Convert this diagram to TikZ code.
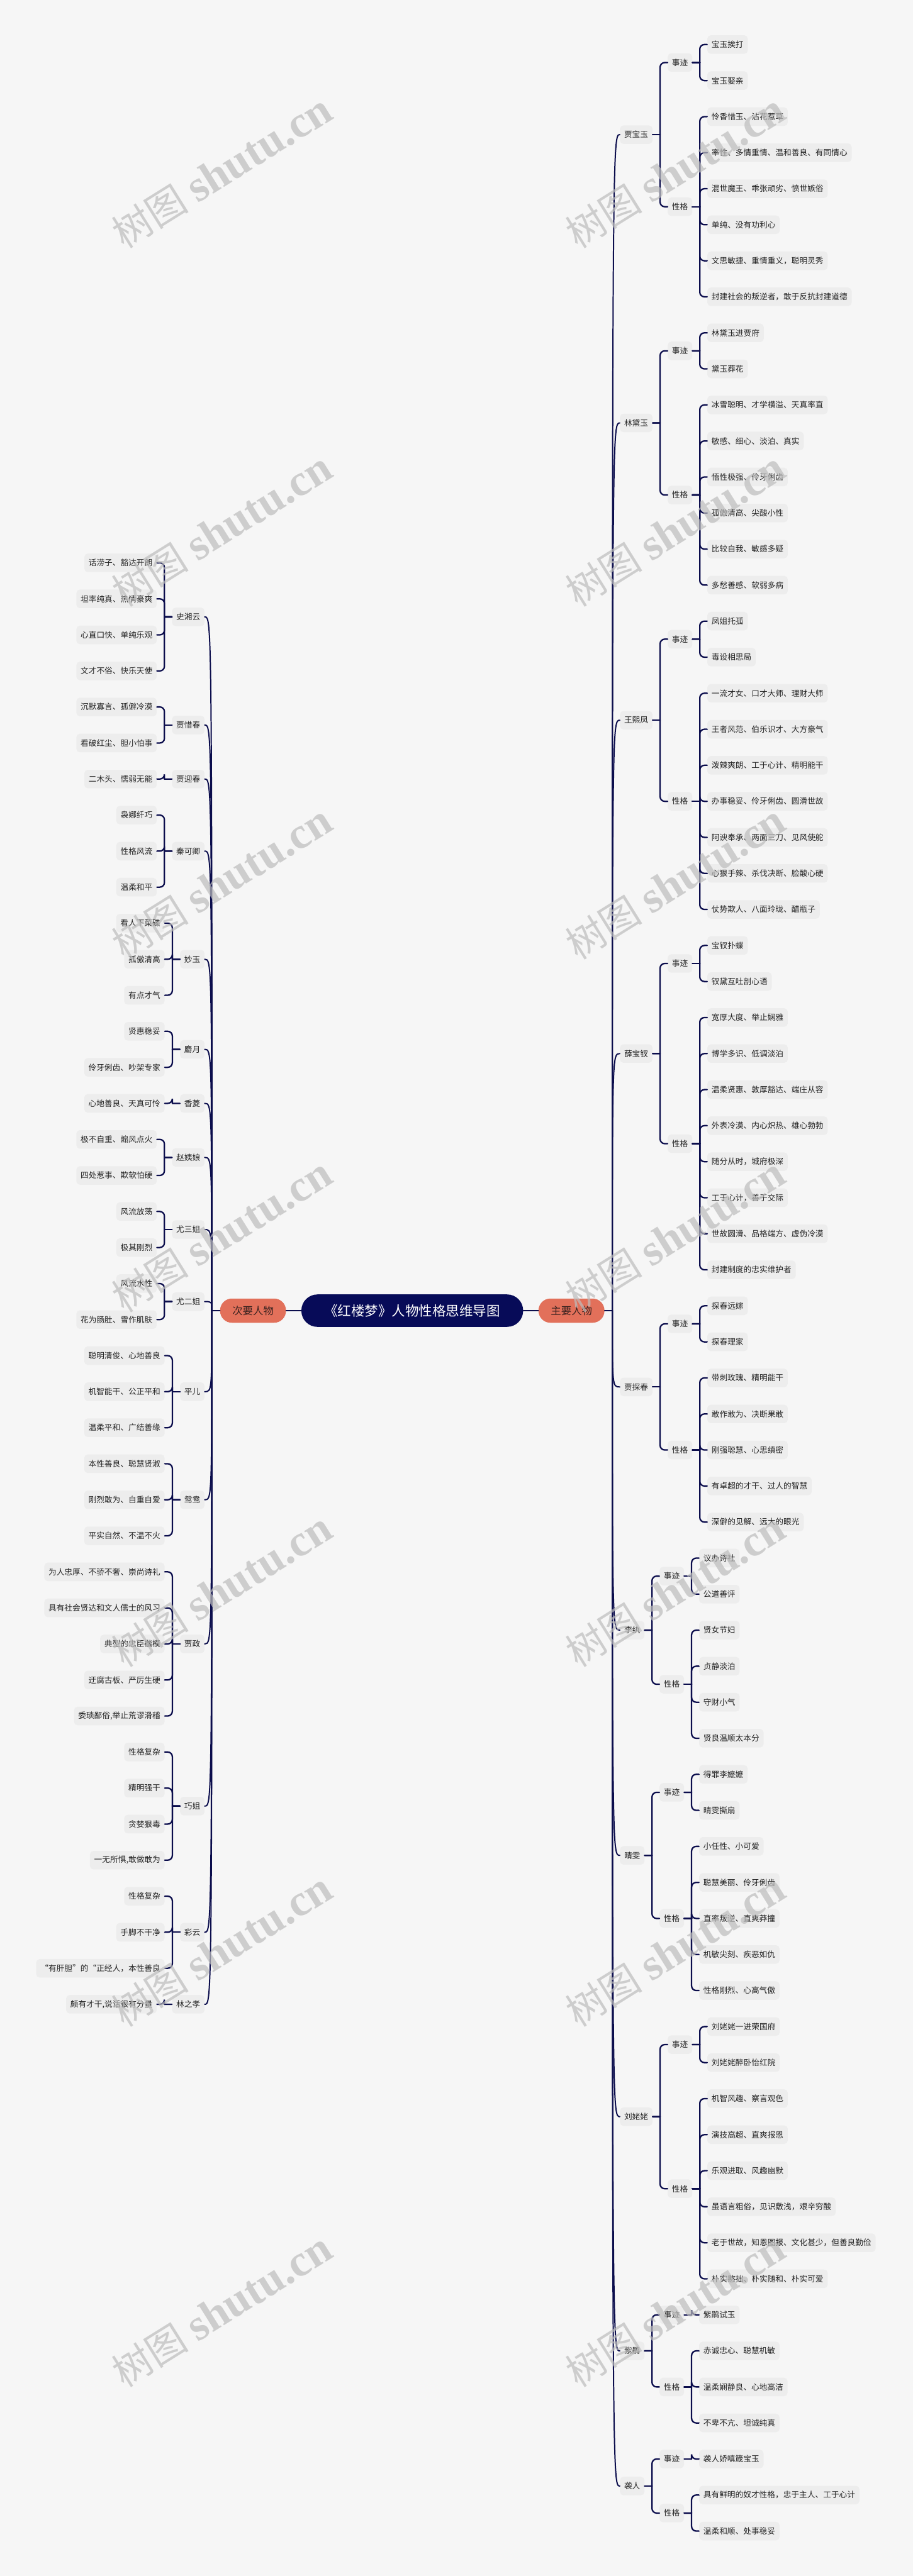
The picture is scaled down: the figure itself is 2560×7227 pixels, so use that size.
\documentclass[tikz,border=0pt]{standalone}
\usepackage{fontspec}
\setmainfont{Noto Sans CJK SC}
\newfontfamily\wmcjk{Noto Sans CJK SC}
\newfontfamily\wmlat{Liberation Serif}
\usetikzlibrary{calc}
\definecolor{bgc}{HTML}{F6F6F6}
\definecolor{boxc}{HTML}{EDEDED}
\definecolor{linec}{HTML}{0B0D4C}
\definecolor{navy}{HTML}{070B58}
\definecolor{coral}{HTML}{E2705A}
\definecolor{coraltxt}{HTML}{3B2320}
\definecolor{txtc}{HTML}{222222}
\definecolor{wmc}{HTML}{BDBDBD}
\tikzset{
  nd/.style={fill=boxc, rounded corners=0.2cm, inner xsep=0.24cm, inner ysep=0pt,
    minimum height=1.04cm, text=txtc, font=\fontsize{12.75pt}{14pt}\selectfont},
  ndR/.style={nd, anchor=west},
  ndL/.style={nd, anchor=east},
  br/.style={draw=linec, line width=0.08cm, line cap=round},
  tr/.style={draw=linec, line width=0.07cm, line cap=round},
  hub/.style={fill=coral, text=coraltxt, minimum width=3.7cm, minimum height=1.36cm,
    rounded corners=0.67cm, inner sep=0pt, font=\fontsize{16.5pt}{18pt}\selectfont},
  wm/.style={anchor=base west, rotate=32, text=wmc, text opacity=0.7, inner sep=0pt}
}
% parent -> child, right side
\newcommand\joinR[2]{%
  \draw[br] (#1.east) -- ($(#1.east)!0.5!(#1.east -| #2.west)$) coordinate (m);
  \draw[br, rounded corners=0.26cm] (m) |- (#2.west);}
% parent -> child, left side
\newcommand\joinL[2]{%
  \draw[br] (#1.west) -- ($(#1.west)!0.5!(#1.west -| #2.east)$) coordinate (m);
  \draw[br, rounded corners=0.26cm] (m) |- (#2.east);}
\newcommand\qo{\makebox[1em][r]{“}}
\newcommand\qc{\makebox[1em][l]{”}}

\begin{document}
\begin{tikzpicture}[x=0.02cm, y=-0.02cm]
\useasboundingbox (0,0) rectangle (2560,7227);
\fill[bgc] (0,0) rectangle (2560,7227);

% centre
\node[fill=navy, text=white, minimum width=12.44cm, minimum height=1.82cm, rounded corners=0.9cm,
  inner sep=0pt, font=\fontsize{21.6pt}{24pt}\selectfont] (title) at (1156,3677) {《红楼梦》人物性格思维导图};
\node[hub] (ci) at (709.5,3677) {次要人物};
\node[hub] (zhu) at (1602.5,3677) {主要人物};
\coordinate (tR) at (1717,3677);
\coordinate (tL) at (594,3677);

% main characters
\node[ndR] (bao) at (1738,377.75) {贾宝玉};
\node[ndR] (baoS) at (1872,175.55) {事迹};
\node[ndR] (baoX) at (1872,579.95) {性格};
\node[ndR] (r0) at (1983,125.0) {宝玉挨打};
\node[ndR] (r1) at (1983,226.1) {宝玉娶亲};
\node[ndR] (r2) at (1983,327.2) {怜香惜玉、沾花惹草};
\node[ndR] (r3) at (1983,428.3) {率性、多情重情、温和善良、有同情心};
\node[ndR] (r4) at (1983,529.4) {混世魔王、乖张顽劣、愤世嫉俗};
\node[ndR] (r5) at (1983,630.5) {单纯、没有功利心};
\node[ndR] (r6) at (1983,731.6) {文思敏捷、重情重义，聪明灵秀};
\node[ndR] (r7) at (1983,832.7) {封建社会的叛逆者，敢于反抗封建道德};

\node[ndR] (dai) at (1738,1186.55) {林黛玉};
\node[ndR] (daiS) at (1872,984.35) {事迹};
\node[ndR] (daiX) at (1872,1388.75) {性格};
\node[ndR] (r8) at (1983,933.8) {林黛玉进贾府};
\node[ndR] (r9) at (1983,1034.9) {黛玉葬花};
\node[ndR] (r10) at (1983,1136.0) {冰雪聪明、才学横溢、天真率直};
\node[ndR] (r11) at (1983,1237.1) {敏感、细心、淡泊、真实};
\node[ndR] (r12) at (1983,1338.2) {悟性极强、伶牙俐齿};
\node[ndR] (r13) at (1983,1439.3) {孤傲清高、尖酸小性};
\node[ndR] (r14) at (1983,1540.4) {比较自我、敏感多疑};
\node[ndR] (r15) at (1983,1641.5) {多愁善感、软弱多病};

\node[ndR] (feng) at (1738,2020.6) {王熙凤};
\node[ndR] (fengS) at (1872,1793.15) {事迹};
\node[ndR] (fengX) at (1872,2248.1) {性格};
\node[ndR] (r16) at (1983,1742.6) {凤姐托孤};
\node[ndR] (r17) at (1983,1843.7) {毒设相思局};
\node[ndR] (r18) at (1983,1944.8) {一流才女、口才大师、理财大师};
\node[ndR] (r19) at (1983,2045.9) {王者风范、伯乐识才、大方豪气};
\node[ndR] (r20) at (1983,2147.0) {泼辣爽朗、工于心计、精明能干};
\node[ndR] (r21) at (1983,2248.1) {办事稳妥、伶牙俐齿、圆滑世故};
\node[ndR] (r22) at (1983,2349.2) {阿谀奉承、两面三刀、见风使舵};
\node[ndR] (r23) at (1983,2450.3) {心狠手辣、杀伐决断、脸酸心硬};
\node[ndR] (r24) at (1983,2551.4) {仗势欺人、八面玲珑、醋瓶子};

\node[ndR] (chai) at (1738,2955.8) {薛宝钗};
\node[ndR] (chaiS) at (1872,2703.05) {事迹};
\node[ndR] (chaiX) at (1872,3208.55) {性格};
\node[ndR] (r25) at (1983,2652.5) {宝钗扑蝶};
\node[ndR] (r26) at (1983,2753.6) {钗黛互吐剖心语};
\node[ndR] (r27) at (1983,2854.7) {宽厚大度、举止娴雅};
\node[ndR] (r28) at (1983,2955.8) {博学多识、低调淡泊};
\node[ndR] (r29) at (1983,3056.9) {温柔贤惠、敦厚豁达、端庄从容};
\node[ndR] (r30) at (1983,3158.0) {外表冷漠、内心炽热、雄心勃勃};
\node[ndR] (r31) at (1983,3259.1) {随分从时，城府极深};
\node[ndR] (r32) at (1983,3360.2) {工于心计，善于交际};
\node[ndR] (r33) at (1983,3461.3) {世故圆滑、品格端方、虚伪冷漠};
\node[ndR] (r34) at (1983,3562.4) {封建制度的忠实维护者};

\node[ndR] (tan) at (1738,3890.98) {贾探春};
\node[ndR] (tanS) at (1872,3714.05) {事迹};
\node[ndR] (tanX) at (1872,4067.9) {性格};
\node[ndR] (r35) at (1983,3663.5) {探春远嫁};
\node[ndR] (r36) at (1983,3764.6) {探春理家};
\node[ndR] (r37) at (1983,3865.7) {带刺玫瑰、精明能干};
\node[ndR] (r38) at (1983,3966.8) {敢作敢为、决断果敢};
\node[ndR] (r39) at (1983,4067.9) {刚强聪慧、心思缜密};
\node[ndR] (r40) at (1983,4169.0) {有卓超的才干、过人的智慧};
\node[ndR] (r41) at (1983,4270.1) {深僻的见解、远大的眼光};

\node[ndR] (wan) at (1738,4573.4) {李纨};
\node[ndR] (wanS) at (1849,4421.75) {事迹};
\node[ndR] (wanX) at (1849,4725.05) {性格};
\node[ndR] (r42) at (1960,4371.2) {议办诗社};
\node[ndR] (r43) at (1960,4472.3) {公道善评};
\node[ndR] (r44) at (1960,4573.4) {贤女节妇};
\node[ndR] (r45) at (1960,4674.5) {贞静淡泊};
\node[ndR] (r46) at (1960,4775.6) {守财小气};
\node[ndR] (r47) at (1960,4876.7) {贤良温顺太本分};

\node[ndR] (wen) at (1738,5205.28) {晴雯};
\node[ndR] (wenS) at (1849,5028.35) {事迹};
\node[ndR] (wenX) at (1849,5382.2) {性格};
\node[ndR] (r48) at (1960,4977.8) {得罪李嬷嬷};
\node[ndR] (r49) at (1960,5078.9) {晴雯撕扇};
\node[ndR] (r50) at (1960,5180.0) {小任性、小可爱};
\node[ndR] (r51) at (1960,5281.1) {聪慧美丽、伶牙俐齿};
\node[ndR] (r52) at (1960,5382.2) {直率叛逆、直爽莽撞};
\node[ndR] (r53) at (1960,5483.3) {机敏尖刻、疾恶如仇};
\node[ndR] (r54) at (1960,5584.4) {性格刚烈、心高气傲};

\node[ndR] (lao) at (1738,5938.25) {刘姥姥};
\node[ndR] (laoS) at (1872,5736.05) {事迹};
\node[ndR] (laoX) at (1872,6140.45) {性格};
\node[ndR] (r55) at (1983,5685.5) {刘姥姥一进荣国府};
\node[ndR] (r56) at (1983,5786.6) {刘姥姥醉卧怡红院};
\node[ndR] (r57) at (1983,5887.7) {机智风趣、察言观色};
\node[ndR] (r58) at (1983,5988.8) {演技高超、直爽报恩};
\node[ndR] (r59) at (1983,6089.9) {乐观进取、风趣幽默};
\node[ndR] (r60) at (1983,6191.0) {虽语言粗俗，见识敷浅，艰辛穷酸};
\node[ndR] (r61) at (1983,6292.1) {老于世故，知恩图报、文化甚少，但善良勤俭};
\node[ndR] (r62) at (1983,6393.2) {朴实憨拙、朴实随和、朴实可爱};

\node[ndR] (juan) at (1738,6595.4) {紫鹃};
\node[ndR] (juanS) at (1849,6494.3) {事迹};
\node[ndR] (juanX) at (1849,6696.5) {性格};
\node[ndR] (r63) at (1960,6494.3) {紫鹃试玉};
\node[ndR] (r64) at (1960,6595.4) {赤诚忠心、聪慧机敏};
\node[ndR] (r65) at (1960,6696.5) {温柔娴静良、心地高洁};
\node[ndR] (r66) at (1960,6797.6) {不卑不亢、坦诚纯真};

\node[ndR] (xi) at (1738,6974.5) {袭人};
\node[ndR] (xiS) at (1849,6898.7) {事迹};
\node[ndR] (xiX) at (1849,7050.35) {性格};
\node[ndR] (r67) at (1960,6898.7) {袭人娇嗔箴宝玉};
\node[ndR] (r68) at (1960,6999.8) {具有鲜明的奴才性格，忠于主人、工于心计};
\node[ndR] (r69) at (1960,7100.9) {温柔和顺、处事稳妥};

% secondary characters
\node[ndL] (yun) at (574,1730.65) {史湘云};
\node[ndL] (l0) at (440,1579.0) {话涝子、豁达开朗};
\node[ndL] (l1) at (440,1680.1) {坦率纯真、热情豪爽};
\node[ndL] (l2) at (440,1781.2) {心直口快、单纯乐观};
\node[ndL] (l3) at (440,1882.3) {文才不俗、快乐天使};

\node[ndL] (xichun) at (574,2033.95) {贾惜春};
\node[ndL] (l4) at (440,1983.4) {沉默寡言、孤僻冷漠};
\node[ndL] (l5) at (440,2084.5) {看破红尘、胆小怕事};

\node[ndL] (ying) at (574,2185.6) {贾迎春};
\node[ndL] (l6) at (440,2185.6) {二木头、懦弱无能};

\node[ndL] (qin) at (574,2387.8) {秦可卿};
\node[ndL] (l7) at (440,2286.7) {袅娜纤巧};
\node[ndL] (l8) at (440,2387.8) {性格风流};
\node[ndL] (l9) at (440,2488.9) {温柔和平};

\node[ndL] (miao) at (574,2691.1) {妙玉};
\node[ndL] (l10) at (462,2590.0) {看人下菜碟};
\node[ndL] (l11) at (462,2691.1) {孤傲清高};
\node[ndL] (l12) at (462,2792.2) {有点才气};

\node[ndL] (she) at (574,2943.85) {麝月};
\node[ndL] (l13) at (462,2893.3) {贤惠稳妥};
\node[ndL] (l14) at (462,2994.4) {伶牙俐齿、吵架专家};

\node[ndL] (ling) at (574,3095.5) {香菱};
\node[ndL] (l15) at (462,3095.5) {心地善良、天真可怜};

\node[ndL] (zhao) at (574,3247.15) {赵姨娘};
\node[ndL] (l16) at (440,3196.6) {极不自重、煽风点火};
\node[ndL] (l17) at (440,3297.7) {四处惹事、欺软怕硬};

\node[ndL] (you3) at (574,3449.35) {尤三姐};
\node[ndL] (l18) at (440,3398.8) {风流放荡};
\node[ndL] (l19) at (440,3499.9) {极其刚烈};

\node[ndL] (you2) at (574,3651.55) {尤二姐};
\node[ndL] (l20) at (440,3601.0) {风流水性};
\node[ndL] (l21) at (440,3702.1) {花为肠肚、雪作肌肤};

\node[ndL] (ping) at (574,3904.3) {平儿};
\node[ndL] (l22) at (462,3803.2) {聪明清俊、心地善良};
\node[ndL] (l23) at (462,3904.3) {机智能干、公正平和};
\node[ndL] (l24) at (462,4005.4) {温柔平和、广结善缘};

\node[ndL] (yuan) at (574,4207.6) {鸳鸯};
\node[ndL] (l25) at (462,4106.5) {本性善良、聪慧贤淑};
\node[ndL] (l26) at (462,4207.6) {刚烈敢为、自重自爱};
\node[ndL] (l27) at (462,4308.7) {平实自然、不温不火};

\node[ndL] (zheng) at (574,4612.0) {贾政};
\node[ndL] (l28) at (462,4409.8) {为人忠厚、不骄不奢、崇尚诗礼};
\node[ndL] (l29) at (462,4510.9) {具有社会贤达和文人儒士的风习};
\node[ndL] (l30) at (462,4612.0) {典型的忠臣楷模};
\node[ndL] (l31) at (462,4713.1) {迂腐古板、严厉生硬};
\node[ndL] (l32) at (462,4814.2) {委琐鄙俗,举止荒谬滑稽};

\node[ndL] (qiao) at (574,5066.95) {巧姐};
\node[ndL] (l33) at (462,4915.3) {性格复杂};
\node[ndL] (l34) at (462,5016.4) {精明强干};
\node[ndL] (l35) at (462,5117.5) {贪婪狠毒};
\node[ndL] (l36) at (462,5218.6) {一无所惧,敢做敢为};

\node[ndL] (cai) at (574,5420.8) {彩云};
\node[ndL] (l37) at (462,5319.7) {性格复杂};
\node[ndL] (l38) at (462,5420.8) {手脚不干净};
\node[ndL] (l39) at (462,5521.9) {\qo 有肝胆\qc 的\qo 正经人，本性善良};

\node[ndL] (linz) at (574,5623.0) {林之孝};
\node[ndL] (l40) at (440,5623.0) {颇有才干,说话很有分量};

% centre links
\draw[tr] (title.east) -- (zhu.west);
\draw[tr] (title.west) -- (ci.east);
\draw[tr] (zhu.east) -- (tR);
\draw[tr] (ci.west) -- (tL);
\foreach \n in {bao,dai,feng,chai,tan,wan,wen,lao,juan,xi}
  \draw[tr] (tR) .. controls (tR |- \n.west) .. (\n.west);
\foreach \n in {yun,xichun,ying,qin,miao,she,ling,zhao,you3,you2,ping,yuan,zheng,qiao,cai,linz}
  \draw[tr] (tL) .. controls (tL |- \n.east) .. (\n.east);

% right branches
\foreach \n in {bao,dai,feng,chai,tan,wan,wen,lao,juan,xi} {\joinR{\n}{\n S}\joinR{\n}{\n X}}
\foreach \c in {0,1} {\joinR{baoS}{r\c}}
\foreach \c in {2,...,7} {\joinR{baoX}{r\c}}
\foreach \c in {8,9} {\joinR{daiS}{r\c}}
\foreach \c in {10,...,15} {\joinR{daiX}{r\c}}
\foreach \c in {16,17} {\joinR{fengS}{r\c}}
\foreach \c in {18,...,24} {\joinR{fengX}{r\c}}
\foreach \c in {25,26} {\joinR{chaiS}{r\c}}
\foreach \c in {27,...,34} {\joinR{chaiX}{r\c}}
\foreach \c in {35,36} {\joinR{tanS}{r\c}}
\foreach \c in {37,...,41} {\joinR{tanX}{r\c}}
\foreach \c in {42,43} {\joinR{wanS}{r\c}}
\foreach \c in {44,...,47} {\joinR{wanX}{r\c}}
\foreach \c in {48,49} {\joinR{wenS}{r\c}}
\foreach \c in {50,...,54} {\joinR{wenX}{r\c}}
\foreach \c in {55,56} {\joinR{laoS}{r\c}}
\foreach \c in {57,...,62} {\joinR{laoX}{r\c}}
\joinR{juanS}{r63}
\foreach \c in {64,65,66} {\joinR{juanX}{r\c}}
\joinR{xiS}{r67}
\foreach \c in {68,69} {\joinR{xiX}{r\c}}

% left branches
\foreach \c in {0,...,3} {\joinL{yun}{l\c}}
\foreach \c in {4,5} {\joinL{xichun}{l\c}}
\joinL{ying}{l6}
\foreach \c in {7,8,9} {\joinL{qin}{l\c}}
\foreach \c in {10,11,12} {\joinL{miao}{l\c}}
\foreach \c in {13,14} {\joinL{she}{l\c}}
\joinL{ling}{l15}
\foreach \c in {16,17} {\joinL{zhao}{l\c}}
\foreach \c in {18,19} {\joinL{you3}{l\c}}
\foreach \c in {20,21} {\joinL{you2}{l\c}}
\foreach \c in {22,23,24} {\joinL{ping}{l\c}}
\foreach \c in {25,26,27} {\joinL{yuan}{l\c}}
\foreach \c in {28,...,32} {\joinL{zheng}{l\c}}
\foreach \c in {33,...,36} {\joinL{qiao}{l\c}}
\foreach \c in {37,38,39} {\joinL{cai}{l\c}}
\joinL{linz}{l40}

% watermark
\foreach \y [count=\i] in {700,1705,2695,3685,4680,5690,6700} {
  \node[wm] (wl\i) at (348,\y) {{\wmcjk\fontsize{62pt}{62pt}\selectfont 树图}\hspace{0.5cm}{\wmlat\bfseries\fontsize{71pt}{71pt}\selectfont shutu.cn}};
  \node[wm] (wr\i) at (1620,\y) {{\wmcjk\fontsize{62pt}{62pt}\selectfont 树图}\hspace{0.5cm}{\wmlat\bfseries\fontsize{71pt}{71pt}\selectfont shutu.cn}};
}
\end{tikzpicture}
\end{document}
